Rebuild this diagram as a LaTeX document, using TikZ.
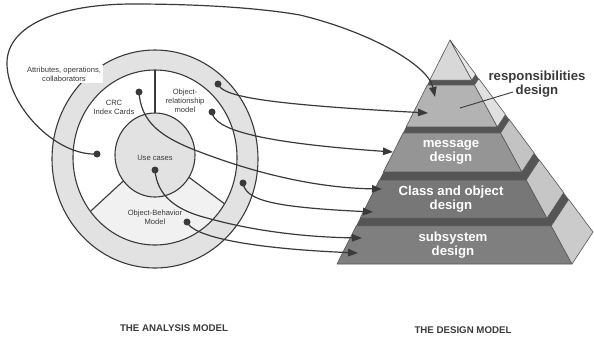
\documentclass[tikz,border=0pt]{standalone}
\usepackage{fontspec}
\setmainfont{Liberation Sans}
\usetikzlibrary{calc,arrows.meta}
\definecolor{ringgray}{HTML}{E2E2E2}
\definecolor{sectorgray}{HTML}{F1F1F1}
\definecolor{linegray}{HTML}{3A3A3A}
\definecolor{bandgray}{HTML}{555555}
\definecolor{capfront}{HTML}{D8D8D8}
\definecolor{capside}{HTML}{E8E8E8}
\definecolor{front1}{HTML}{B3B3B3}
\definecolor{side1}{HTML}{E0E0E0}
\definecolor{front2}{HTML}{959595}
\definecolor{side2}{HTML}{C3C3C3}
\definecolor{front3}{HTML}{777777}
\definecolor{side3}{HTML}{C6C6C6}
\definecolor{front4}{HTML}{7F7F7F}
\definecolor{side4}{HTML}{CBCBCB}
\tikzset{
	ring/.style={draw=linegray,line width=1.1pt},
	dot/.style={circle,fill=linegray,inner sep=0pt,minimum size=7pt},
	flow/.style={linegray,line width=1.2pt,-{Triangle[length=10pt,width=7.5pt]}},
	small/.style={font=\fontsize{7.6}{8.8}\selectfont,text=linegray,align=center,inner sep=1pt},
	layertext/.style={font=\bfseries\fontsize{13.2}{14}\selectfont,text=white,align=center},
	title/.style={font=\bfseries\fontsize{9.7}{11}\selectfont,text=linegray},
	face/.style={draw=bandgray,line width=.6pt,line join=round},
}
\begin{document}
\begin{tikzpicture}
		[x=1pt,y=-1pt]
		\useasboundingbox(0,0)rectangle(594,338);
		\coordinate(o) at (155,159);
		\coordinate(m) at (155,157.5);
		\coordinate(u) at (155,155);
		\fill[ringgray,ring](o)ellipse[x radius=103,y radius=109];
		\fill[white](m)ellipse[x radius=82,y radius=87.5];
		\fill[sectorgray]($(m)+(32:82 and 87.5)$)arc[start angle=32,end angle=142,x radius=82,y radius=87.5]
			--($(u)+(142:40 and 42)$)arc[start angle=142,end angle=32,x radius=40,y radius=42]--cycle;
		\draw[ring](m)ellipse[x radius=82,y radius=87.5];
		\fill[ringgray,ring](u)ellipse[x radius=40,y radius=42];
		\foreach \a in {270,142,32}
			\draw[ring]($(u)+(\a:40 and 42)$)--($(m)+(\a:82 and 87.5)$);
		\node[small,fill=white,inner sep=2pt](attr) at (64,74){Attributes, operations,\\collaborators};
		\node[small](crc) at (114,107){CRC\\Index Cards};
		\node[small](orm) at (185,101){Object-\\relationship\\model};
		\node[small](uc) at (155,158){Use cases};
		\node[small](obm) at (155,217){Object-Behavior\\Model};
		\coordinate(apex) at (450,40);
		\coordinate(fl) at (337,264);
		\coordinate(fr) at (572,264);
		\coordinate(br) at (593,232);
		\foreach \n/\t/\b/\u in {4/.830/1/.795,3/.625/.795/.589,2/.415/.589/.388,1/.201/.388/.179}
		{
			\fill[bandgray]($(apex)!\t!(fl)$)--($(apex)!\t!(fr)$)--($(apex)!\t!(br)$)
				--($(apex)!\u!(br)$)--($(apex)!\u!(fr)$)--($(apex)!\u!(fl)$)--cycle;
			\filldraw[face,fill=front\n]($(apex)!\t!(fl)$)--($(apex)!\t!(fr)$)--($(apex)!\b!(fr)$)--($(apex)!\b!(fl)$)--cycle;
			\filldraw[face,fill=side\n]($(apex)!\t!(fr)$)--($(apex)!\t!(br)$)--($(apex)!\b!(br)$)--($(apex)!\b!(fr)$)--cycle;
		}
		\filldraw[face,fill=capfront](apex)--($(apex)!.179!(fl)$)--($(apex)!.179!(fr)$)--cycle;
		\filldraw[face,fill=capside](apex)--($(apex)!.179!(fr)$)--($(apex)!.179!(br)$)--cycle;
		\node[layertext](msg) at (451,152){message\\design};
		\node[layertext](cls) at (451,199){Class and object\\design};
		\node[layertext](sub) at (453,245){subsystem\\design};
		\node[layertext,text=linegray](resp) at (537,84){responsibilities\\design};
		\coordinate(respfoot) at (513,92);
		\coordinate(resptip) at (460,108);
		\draw[linegray,line width=.9pt](respfoot)--(resptip);
		\node[dot](attrdot) at (97,154){};
		\node[dot](crcdot) at (139,92){};
		\node[dot](ringtop) at (218,84){};
		\node[dot](ormdot) at (212,112){};
		\node[dot](ringlow) at (243,183){};
		\node[dot](ucdot) at (155,170){};
		\node[dot](obmdot) at (187,222){};
		\coordinate(respin1) at (435,97);
		\coordinate(respin2) at (428,113);
		\coordinate(msgin) at (393,152);
		\coordinate(clsin1) at (382,189);
		\coordinate(clsin2) at (373,212);
		\coordinate(subin1) at (362,238);
		\coordinate(subin2) at (358,253);
		\draw[flow](attrdot.center)..controls(55,156)and(7,105)..(7,63)..controls(7,25)and(60,4)..(133,4)
			..controls(200,4)and(260,8)..(300,15)..controls(370,32)and(428,65)..(respin1);
		\draw[flow](ringtop.center)..controls(222,96)and(260,104)..(respin2);
		\draw[flow](ormdot.center)..controls(214,128)and(250,142)..(msgin);
		\draw[flow](crcdot.center)..controls(141,122)and(160,137)..(200,152)..controls(260,175)and(320,188)..(clsin1);
		\draw[flow](ringlow.center)..controls(246,200)and(270,207)..(clsin2);
		\draw[flow](ucdot.center)..controls(157,195)and(175,210)..(207,218)..controls(250,230)and(300,237)..(subin1);
		\draw[flow](obmdot.center)..controls(192,235)and(240,248)..(subin2);
		\node[title](ana) at (174,328){THE ANALYSIS MODEL};
		\node[title](des) at (463,330){THE DESIGN MODEL};
	\end{tikzpicture}
\end{document}
